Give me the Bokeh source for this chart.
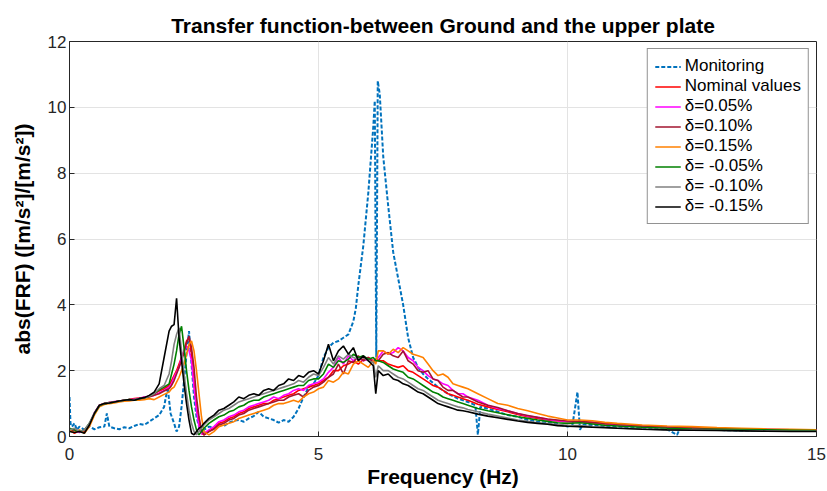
from bokeh.plotting import figure
from bokeh.models import Range1d, Legend, LegendItem, FixedTicker
from bokeh.embed import file_html
from bokeh.resources import INLINE

# Shared frequency grid (Hz) for the simulated curves
freq = [0, 0.1, 0.2, 0.3, 0.4, 0.5, 0.6, 0.7, 0.8, 0.9,
        1.0, 1.1, 1.2, 1.3, 1.4, 1.5, 1.6, 1.7, 1.8, 1.9,
        2.0, 2.05, 2.1, 2.15, 2.2, 2.25, 2.3, 2.35, 2.4, 2.45,
        2.5, 2.55, 2.6, 2.65, 2.7, 2.8, 2.9, 3.0, 3.1, 3.2,
        3.3, 3.4, 3.5, 3.6, 3.7, 3.8, 3.9, 4.0, 4.1, 4.2,
        4.3, 4.4, 4.5, 4.6, 4.7, 4.8, 4.9, 5.0, 5.1, 5.2,
        5.3, 5.4, 5.5, 5.6, 5.7, 5.8, 5.9, 6.0, 6.1, 6.15,
        6.2, 6.3, 6.4, 6.5, 6.6, 6.7, 6.8, 6.9, 7.0, 7.1,
        7.2, 7.3, 7.4, 7.5, 7.6, 7.7, 7.8, 7.9, 8.0, 8.2,
        8.4, 8.6, 8.8, 9.0, 9.2, 9.4, 9.6, 9.8, 10.0, 10.25,
        10.5, 10.75, 11.0, 11.5, 12.0, 12.5, 13.0, 13.5, 14.0, 14.5,
        15.0]

nominal = [0.2, 0.1, 0.18, 0.15, 0.35, 0.7, 0.95, 1.0, 1.03, 1.05,
           1.07, 1.1, 1.12, 1.15, 1.17, 1.18, 1.22, 1.3, 1.38, 1.45,
           1.55, 1.7, 1.85, 2.0, 2.2, 2.4, 2.6, 2.9, 3.0, 2.5,
           1.6, 0.9, 0.4, 0.1, 0.05, 0.15, 0.25, 0.4, 0.45, 0.55,
           0.6, 0.7, 0.75, 0.85, 0.9, 0.95, 1.0, 1.0, 1.1, 1.15,
           1.2, 1.25, 1.3, 1.4, 1.45, 1.5, 1.55, 1.6, 1.7, 1.8,
           2.0, 2.0, 2.15, 2.2, 2.3, 2.2, 2.35, 2.4, 2.3, 2.35,
           2.3, 2.3, 2.2, 2.15, 2.1, 2.15, 2.0, 1.95, 1.85, 1.75,
           1.65, 1.55, 1.5, 1.4, 1.3, 1.25, 1.2, 1.15, 1.1, 0.98,
           0.9, 0.82, 0.75, 0.67, 0.6, 0.55, 0.5, 0.47, 0.45, 0.45,
           0.42, 0.38, 0.35, 0.31, 0.28, 0.26, 0.23, 0.22, 0.21, 0.2,
           0.2]

d_p005 = [0.22, 0.18, 0.12, 0.2, 0.38, 0.72, 0.95, 1.0, 1.03, 1.06,
          1.08, 1.1, 1.1, 1.14, 1.16, 1.2, 1.22, 1.25, 1.32, 1.4,
          1.5, 1.6, 1.8, 1.95, 2.1, 2.4, 2.6, 2.75, 2.6, 2.3,
          1.5, 0.8, 0.3, 0.08, 0.1, 0.2, 0.3, 0.45, 0.5, 0.6,
          0.65, 0.75, 0.8, 0.9, 0.95, 1.0, 1.05, 1.1, 1.2, 1.15,
          1.25, 1.3, 1.4, 1.45, 1.4, 1.55, 1.6, 1.65, 1.75, 1.95,
          2.1, 2.4, 2.2, 2.45, 2.3, 2.4, 2.3, 2.35, 2.3, 2.3,
          2.4, 2.6, 2.5, 2.55, 2.7, 2.6, 2.4, 2.3, 2.1, 2.0,
          1.85, 1.75, 1.7, 1.6, 1.55, 1.4, 1.3, 1.3, 1.2, 1.1,
          0.95, 0.85, 0.78, 0.7, 0.62, 0.58, 0.52, 0.48, 0.46, 0.45,
          0.43, 0.4, 0.36, 0.32, 0.29, 0.26, 0.24, 0.22, 0.21, 0.2,
          0.2]

d_p010 = [0.15, 0.22, 0.15, 0.18, 0.36, 0.7, 0.93, 1.0, 1.03, 1.05,
          1.08, 1.1, 1.12, 1.13, 1.15, 1.18, 1.2, 1.25, 1.3, 1.38,
          1.45, 1.55, 1.7, 1.9, 2.1, 2.3, 2.55, 2.85, 3.05, 2.7,
          2.1, 1.2, 0.6, 0.2, 0.05, 0.15, 0.22, 0.35, 0.4, 0.5,
          0.55, 0.65, 0.7, 0.8, 0.85, 0.9, 0.95, 1.0, 1.05, 1.1,
          1.1, 1.2, 1.25, 1.3, 1.2, 1.4, 1.5, 1.55, 1.65, 1.8,
          1.9, 2.2, 1.9, 2.3, 2.25, 2.45, 2.3, 2.4, 2.25, 2.35,
          2.3, 2.5, 2.55, 2.45, 2.4, 2.6, 2.3, 2.2, 2.0, 1.95,
          2.0, 1.75, 1.7, 1.5, 1.4, 1.4, 1.3, 1.2, 1.2, 1.05,
          0.95, 0.88, 0.78, 0.7, 0.64, 0.58, 0.53, 0.5, 0.47, 0.46,
          0.43, 0.4, 0.37, 0.32, 0.29, 0.27, 0.24, 0.22, 0.21, 0.2,
          0.2]

d_p015 = [0.18, 0.12, 0.2, 0.1, 0.3, 0.65, 0.9, 0.97, 1.0, 1.02,
          1.05, 1.07, 1.08, 1.1, 1.1, 1.12, 1.15, 1.12, 1.2, 1.28,
          1.35, 1.45, 1.5, 1.65, 1.8, 2.0, 2.2, 2.5, 2.8, 2.9,
          2.6, 2.0, 1.3, 0.6, 0.15, 0.05, 0.15, 0.3, 0.35, 0.4,
          0.45, 0.55, 0.6, 0.65, 0.7, 0.75, 0.8, 0.85, 0.95, 1.0,
          1.0, 1.05, 1.1, 1.05, 1.2, 1.3, 1.35, 1.45, 1.5, 1.7,
          1.65, 1.75, 1.95, 1.9, 2.2, 2.3, 2.2, 2.1, 2.3, 2.2,
          2.6, 2.6, 2.5, 2.65, 2.55, 2.7, 2.6, 2.5, 2.45, 2.4,
          2.2, 2.0, 1.85, 1.9, 1.8, 1.6, 1.55, 1.5, 1.45, 1.3,
          1.15, 1.0, 0.95, 0.85, 0.78, 0.7, 0.62, 0.56, 0.5, 0.5,
          0.48, 0.43, 0.4, 0.35, 0.32, 0.3, 0.27, 0.25, 0.23, 0.22,
          0.2]

d_m005 = [0.25, 0.2, 0.15, 0.2, 0.4, 0.7, 0.93, 1.0, 1.02, 1.05,
          1.08, 1.1, 1.12, 1.1, 1.15, 1.17, 1.22, 1.3, 1.42, 1.5,
          1.6, 1.9, 2.2, 2.6, 3.1, 3.35, 2.7, 2.0, 1.4, 0.9,
          0.5, 0.2, 0.05, 0.15, 0.25, 0.4, 0.5, 0.6, 0.65, 0.75,
          0.8, 0.9, 0.95, 1.05, 1.1, 1.1, 1.2, 1.25, 1.3, 1.35,
          1.4, 1.45, 1.5, 1.55, 1.55, 1.7, 1.75, 1.75, 1.9, 2.2,
          2.1, 2.3, 2.25, 2.35, 2.5, 2.4, 2.45, 2.35, 2.4, 2.3,
          2.3, 2.25, 2.15, 2.05, 2.0, 1.95, 1.8, 1.75, 1.65, 1.55,
          1.45, 1.35, 1.3, 1.2, 1.15, 1.1, 1.05, 1.0, 0.95, 0.85,
          0.78, 0.72, 0.66, 0.6, 0.55, 0.5, 0.46, 0.42, 0.4, 0.42,
          0.38, 0.34, 0.32, 0.28, 0.25, 0.23, 0.22, 0.21, 0.2, 0.19,
          0.18]

d_m010 = [0.2, 0.25, 0.15, 0.2, 0.4, 0.72, 0.95, 1.0, 1.03, 1.05,
          1.07, 1.1, 1.1, 1.12, 1.15, 1.17, 1.22, 1.3, 1.45, 1.55,
          1.9, 2.3, 2.8, 3.1, 3.3, 2.6, 1.9, 1.3, 0.8, 0.4,
          0.15, 0.05, 0.15, 0.25, 0.35, 0.5, 0.6, 0.7, 0.8, 0.85,
          0.95, 1.05, 1.1, 1.15, 1.2, 1.25, 1.3, 1.35, 1.4, 1.45,
          1.5, 1.55, 1.6, 1.7, 1.65, 1.8, 1.9, 1.85, 2.1, 2.4,
          2.2, 2.45, 2.35, 2.5, 2.4, 2.35, 2.4, 2.3, 2.25, 1.8,
          2.15, 2.0, 2.0, 1.9, 1.8, 1.75, 1.65, 1.55, 1.45, 1.4,
          1.3, 1.2, 1.1, 1.05, 1.0, 0.95, 0.9, 0.87, 0.82, 0.75,
          0.68, 0.62, 0.56, 0.5, 0.46, 0.42, 0.39, 0.36, 0.34, 0.33,
          0.3, 0.28, 0.26, 0.23, 0.21, 0.2, 0.19, 0.18, 0.17, 0.16,
          0.16]

d_m015 = [0.15, 0.12, 0.15, 0.1, 0.35, 0.7, 0.95, 1.0, 1.02, 1.05,
          1.08, 1.1, 1.12, 1.1, 1.15, 1.18, 1.25, 1.35, 1.6, 2.4,
          3.2, 3.35, 3.4, 4.2, 3.0, 2.3, 1.6, 1.0, 0.5, 0.1,
          0.05, 0.15, 0.25, 0.3, 0.4, 0.55, 0.65, 0.8, 0.85, 0.95,
          1.05, 1.2, 1.15, 1.25, 1.3, 1.25, 1.4, 1.45, 1.4, 1.55,
          1.6, 1.75, 1.7, 1.85, 1.8, 1.95, 2.0, 1.9, 2.3, 2.8,
          2.3, 2.6, 2.75, 2.5, 2.7, 2.3, 2.45, 2.3, 2.15, 1.3,
          2.0, 1.85, 1.9, 1.75, 1.7, 1.6, 1.55, 1.45, 1.35, 1.3,
          1.2, 1.1, 1.0, 0.95, 0.9, 0.85, 0.8, 0.78, 0.75, 0.68,
          0.62, 0.57, 0.52, 0.47, 0.43, 0.4, 0.37, 0.33, 0.31, 0.3,
          0.28, 0.27, 0.25, 0.22, 0.2, 0.19, 0.18, 0.17, 0.16, 0.15,
          0.15]

# Monitoring (measured) curve
mon_freq = [0, 0.02, 0.05, 0.1, 0.15, 0.2, 0.3, 0.4, 0.5, 0.6,
            0.7, 0.75, 0.8, 0.9, 1.0, 1.1, 1.2, 1.3, 1.4, 1.5,
            1.6, 1.7, 1.8, 1.9, 1.97, 2.03, 2.1, 2.15, 2.2, 2.25,
            2.3, 2.35, 2.4, 2.45, 2.5, 2.55, 2.6, 2.7, 2.8, 2.9,
            3.0, 3.1, 3.2, 3.3, 3.4, 3.5, 3.6, 3.7, 3.8, 3.9,
            4.0, 4.1, 4.2, 4.3, 4.4, 4.5, 4.6, 4.7, 4.8, 4.9,
            5.0, 5.1, 5.2, 5.3, 5.4, 5.5, 5.6, 5.7, 5.75, 5.8,
            5.9, 6.0, 6.05, 6.1, 6.13, 6.16, 6.19, 6.23, 6.3, 6.4,
            6.5, 6.6, 6.7, 6.8, 6.9, 7.0, 7.1, 7.2, 7.4, 7.6,
            7.8, 8.0, 8.15, 8.2, 8.25, 8.4, 8.6, 8.8, 9.0, 9.2,
            9.4, 9.6, 9.8, 10.0, 10.1, 10.2, 10.25, 10.3, 10.5, 10.75,
            11.0, 11.5, 12.0, 12.2, 12.25, 12.5, 13.0, 13.5, 14.0, 14.5,
            15.0]
monitoring = [1.2, 0.4, 0.3, 0.4, 0.2, 0.3, 0.2, 0.3, 0.22, 0.28,
              0.3, 0.7, 0.3, 0.25, 0.22, 0.28, 0.25, 0.32, 0.38, 0.35,
              0.45, 0.55, 0.65, 0.9, 1.5, 0.7, 0.4, 0.15, 0.3, 0.9,
              1.7, 2.5, 3.2, 2.2, 1.2, 0.6, 0.3, 0.2, 0.3, 0.28,
              0.38, 0.32, 0.42, 0.48, 0.5, 0.45, 0.55, 0.62, 0.75, 0.6,
              0.55, 0.5, 0.42, 0.5, 0.45, 0.6, 0.85, 1.2, 1.5, 1.6,
              1.85, 2.4, 2.7, 2.85, 2.9, 3.0, 3.1, 3.5, 3.9, 4.6,
              5.8, 7.4, 8.4, 9.4, 10.2, 2.4, 10.8, 10.4, 8.5, 7.0,
              5.6, 4.8, 4.0, 3.0, 2.4, 2.1, 1.9, 1.75, 1.5, 1.3,
              1.15, 1.05, 0.95, 0.05, 0.9, 0.85, 0.75, 0.65, 0.6, 0.5,
              0.45, 0.42, 0.38, 0.3, 0.35, 1.35, 0.2, 0.35, 0.35, 0.3,
              0.3, 0.25, 0.22, 0.05, 0.22, 0.2, 0.2, 0.18, 0.18, 0.17,
              0.17]

series = [
    ("Nominal values", nominal, "#FF0000"),
    ("δ=0.05%", d_p005, "#FF00FF"),
    ("δ=0.10%", d_p010, "#A2142F"),
    ("δ=0.15%", d_p015, "#FF8000"),
    ("δ= -0.05%", d_m005, "#008000"),
    ("δ= -0.10%", d_m010, "#808080"),
    ("δ= -0.15%", d_m015, "#000000"),
]

x_ticks = [0, 5, 10, 15]
y_ticks = [0, 2, 4, 6, 8, 10, 12]

FONT = "Liberation Sans"
AX = "#262626"

p = figure(width=827, height=491, output_backend="svg", toolbar_location=None,
           x_range=Range1d(0, 15), y_range=Range1d(0, 12),
           min_border_left=69, min_border_right=11, min_border_top=41,
           min_border_bottom=55)
p.background_fill_color = "white"
p.border_fill_color = "white"
p.outline_line_color = AX
p.outline_line_width = 1

items = []
n = min(len(mon_freq), len(monitoring))
r = p.line(mon_freq[:n], monitoring[:n], line_color="#0072BD", line_width=2,
           line_dash="4 2")
items.append(LegendItem(label="Monitoring", renderers=[r]))
for label, vals, color in series:
    n = min(len(freq), len(vals))
    r = p.line(freq[:n], vals[:n], line_color=color, line_width=1.6)
    items.append(LegendItem(label=label, renderers=[r]))

for ax in (p.xaxis[0], p.yaxis[0]):
    ax.axis_line_color = AX
    ax.major_tick_line_color = AX
    ax.minor_tick_line_color = None
    ax.major_tick_in = 5
    ax.major_tick_out = 0
    ax.major_label_text_font = FONT
    ax.major_label_text_font_size = "17px"
    ax.major_label_text_color = AX
    ax.axis_label_text_font = FONT
    ax.axis_label_text_font_style = "bold"
    ax.axis_label_text_font_size = "21px"
    ax.axis_label_text_color = "#000000"

p.xaxis[0].ticker = FixedTicker(ticks=x_ticks)
p.yaxis[0].ticker = FixedTicker(ticks=y_ticks)
p.xaxis[0].axis_label = "Frequency (Hz)"
p.yaxis[0].axis_label = "abs(FRF) ([m/s²]/[m/s²])"
p.xaxis[0].major_label_standoff = 11
p.yaxis[0].major_label_standoff = 3
p.xaxis[0].axis_label_standoff = 2
p.yaxis[0].axis_label_standoff = 11

p.xgrid.grid_line_color = "#e3e3e3"
p.ygrid.grid_line_color = "#e3e3e3"
p.xgrid.ticker = FixedTicker(ticks=x_ticks)
p.ygrid.ticker = FixedTicker(ticks=y_ticks)

p.title.text = "Transfer function-between Ground and the upper plate"
p.title.align = "center"
p.title.text_font = FONT
p.title.text_font_size = "21px"
p.title.text_font_style = "bold"
p.title.text_color = "#000000"

legend = Legend(items=items, location="top_right")
legend.margin = 7
legend.padding = 7
legend.spacing = 0
legend.glyph_height = 19
legend.label_height = 19
legend.glyph_width = 26
legend.label_standoff = 4
legend.label_text_font = FONT
legend.label_text_font_size = "17px"
legend.label_text_color = "#000000"
legend.border_line_color = AX
legend.border_line_width = 1
legend.background_fill_color = "white"
legend.background_fill_alpha = 1
p.add_layout(legend)

html = file_html(p, INLINE)
open("out.html", "w").write(html)
